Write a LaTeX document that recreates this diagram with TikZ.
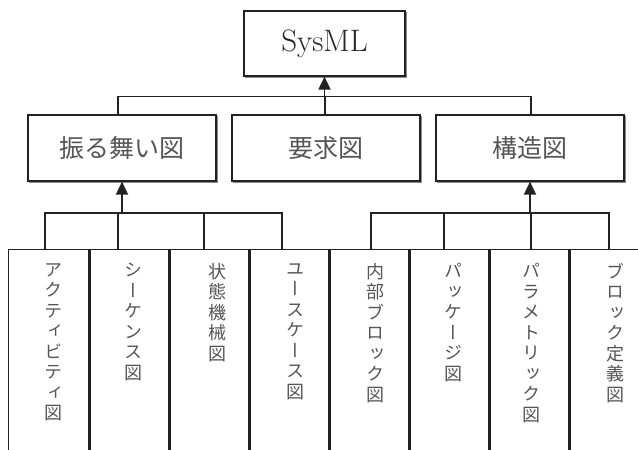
\documentclass[tikz,border=0pt]{standalone}
\usepackage{fontspec}
\usetikzlibrary{shadows,arrows.meta,calc}
\newfontfamily\jp{Noto Sans CJK JP}
\newfontfamily\vjp[RawFeature=+vert]{Noto Sans CJK JP}
\definecolor{linec}{HTML}{222222}
\definecolor{textc}{HTML}{555555}
\begin{document}
\begin{tikzpicture}[x=1pt,y=1pt,
  box/.style={rectangle, draw=linec, line width=1.2pt, inner sep=0pt,
    general shadow={draw=black!45, line width=1.2pt, shadow xshift=1.6pt, shadow yshift=-1.6pt}},
  topbox/.style={box, fill=white, minimum width=161pt, minimum height=65pt,
    font=\fontsize{31}{33}\selectfont, text=black!85},
  midbox/.style={box, fill=white, minimum width=188pt, minimum height=66pt,
    font=\jp\fontsize{25}{28}\selectfont, text=textc},
  lowbox/.style={rectangle, draw=linec, line width=1.1pt, inner sep=0pt,
    minimum width=80pt, minimum height=230pt, anchor=north,
    append after command={(\tikzlastnode.north east) edge[draw=linec, line width=3pt]
      (\tikzlastnode.south east)}},
  vlabel/.style={anchor=north, align=center, inner sep=0pt,
    font=\vjp\fontsize{18}{20.5}\selectfont, text=textc},
  conn/.style={draw=linec, line width=1.1pt},
  arr/.style={draw=linec, line width=1.8pt, -{Triangle[width=12pt,length=13pt]}}
]
\useasboundingbox (0,0) rectangle (638,450);
\clip (0,0) rectangle (638,450);

\node[topbox] (sys) at (324.5,406.5) {SysML};
\node[midbox] (beh) at (122,302) {振る舞い図};
\node[midbox] (req) at (326,302) {要求図};
\node[midbox] (str) at (530,302) {構造図};

\node[lowbox] (b1) at (48.5,201) {};
\node[lowbox] (b2) at (128.5,201) {};
\node[lowbox] (b3) at (208.5,201) {};
\node[lowbox] (b4) at (288.5,201) {};
\node[lowbox] (b5) at (368.5,201) {};
\node[lowbox] (b6) at (448.5,201) {};
\node[lowbox] (b7) at (528.5,201) {};
\node[lowbox] (b8) at (608.5,201) {};

\node[vlabel] (t1) at (53,187) {ア\\ク\\テ\\ィ\\ビ\\テ\\ィ\\図};
\node[vlabel] (t2) at (133,187) {シ\\ー\\ケ\\ン\\ス\\図};
\node[vlabel] (t3) at (217,187) {状\\態\\機\\械\\図};
\node[vlabel] (t4) at (295,187) {ユ\\ー\\ス\\ケ\\ー\\ス\\図};
\node[vlabel] (t5) at (375,187) {内\\部\\ブ\\ロ\\ッ\\ク\\図};
\node[vlabel] (t6) at (453,187) {パ\\ッ\\ケ\\ー\\ジ\\図};
\node[vlabel] (t7) at (531,187) {パ\\ラ\\メ\\ト\\リ\\ッ\\ク\\図};
\node[vlabel] (t8) at (615,187) {ブ\\ロ\\ッ\\ク\\定\\義\\図};

% upper bus
\coordinate (ub) at (118,353.5);
\coordinate (um) at (325,353.5);
\coordinate (ue) at (531,353.5);
\draw[conn] (ub |- beh.north) -- (ub) -- (ue) -- (ue |- str.north);
\draw[conn] (um) -- (um |- req.north);
\draw[arr] (sys.south |- ub) -- (sys.south);

% lower left bus
\coordinate (l1) at (45,237);
\coordinate (l2) at (118,237);
\coordinate (l3) at (204,237);
\coordinate (l4) at (282,237);
\draw[conn] (l1 |- b1.north) -- (l1) -- (l4) -- (l4 |- b4.north);
\draw[conn] (l2) -- (l2 |- b2.north);
\draw[conn] (l3) -- (l3 |- b3.north);
\draw[arr] (beh.south |- l1) -- (beh.south);

% lower right bus
\coordinate (r1) at (371,237);
\coordinate (r2) at (444,237);
\coordinate (r3) at (531,237);
\coordinate (r4) at (609,237);
\draw[conn] (r1 |- b5.north) -- (r1) -- (r4) -- (r4 |- b8.north);
\draw[conn] (r2) -- (r2 |- b6.north);
\draw[conn] (r3) -- (r3 |- b7.north);
\draw[arr] (str.south |- r1) -- (str.south);
\end{tikzpicture}
\end{document}
